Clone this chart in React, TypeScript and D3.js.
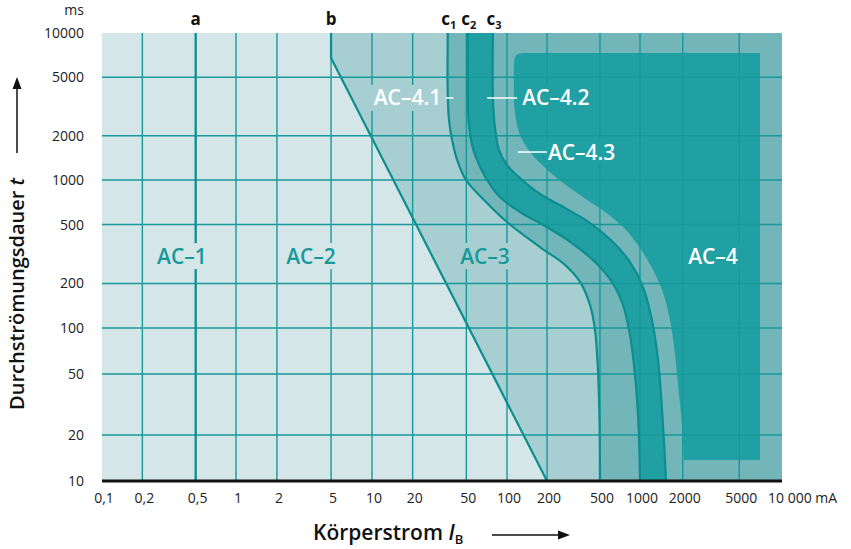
import React from "react";
import * as d3 from "d3";

// ---------- data ----------
const xTicks = [0.1, 0.2, 0.5, 1, 2, 5, 10, 20, 50, 100, 200, 500, 1000, 2000, 5000, 10000];
const xTickLabels = ["0,1", "0,2", "0,5", "1", "2", "5", "10", "20", "50", "100", "200", "500", "1000", "2000", "5000", "10 000 mA"];
const yTicks = [10, 20, 50, 100, 200, 500, 1000, 2000, 5000, 10000];
const xGrid = [0.2, 0.5, 1, 2, 5, 10, 20, 50, 100, 200, 500, 1000, 2000, 5000];
const yGrid = [20, 50, 100, 200, 500, 1000, 2000, 5000];

// curves as [current mA, duration ms]
const lineA: number[][] = [[0.5, 10], [0.5, 10000]];
const lineB: number[][] = [[5, 10000], [5, 6760], [200, 10]];
const curveC1: number[][] = [
  [36.4, 10000], [36.4, 3780], [37.2, 2560], [39.2, 1870], [42.7, 1370], [49.7, 1000], [67.6, 733],
  [100, 520], [177, 352], [273, 267], [354, 205], [421, 143], [459, 97], [483, 53.1], [496, 25.1], [500, 10],
];
const curveC2: number[][] = [
  [51.2, 10000], [51.2, 3500], [52.3, 2370], [55.1, 1730], [59.9, 1370], [69.9, 1030], [88.7, 767],
  [125, 608], [193, 489], [308, 375], [459, 279], [615, 205], [745, 143], [841, 89.9], [917, 49.3],
  [975, 23.2], [1000, 10],
];
const curveC3: number[][] = [
  [78.7, 10000], [78.7, 3500], [81.5, 2260], [87.3, 1600], [100, 1265], [125, 1030], [177, 804],
  [273, 647], [421, 512], [615, 387], [841, 279], [1050, 189], [1215, 113], [1339, 61.8], [1429, 29.1],
  [1488, 16], [1524, 10],
];
const ac4Boundary: number[][] = [
  [113, 6350], [113, 3500], [117, 2560], [127, 1960], [151, 1530], [193, 1210], [259, 969], [372, 767],
  [546, 608], [759, 474], [1000, 347], [1215, 254], [1429, 181], [1600, 122], [1734, 77.4], [1852, 42.4],
  [1977, 23.2], [2042, 13.7],
];
const ac4Top = 7300;
const ac4Right = 7000;
const ac4Bottom = 13.7;

const FONT = "'Open Sans', 'Noto Sans', sans-serif";
const C_LIGHT = "#d4e6e8";
const C_AC3 = "#a7cfd2";
const C_MED = "#72b6b9";
const C_DARK = "#21a0a3";
const C_GRID = "#17999b";
const C_LINE = "#0c8e90";

export default function App() {
  const x = d3.scaleLog().domain([0.1, 1, 10, 100, 1000, 10000]).range([102, 236, 372, 507, 640, 782]);
  const y = d3.scaleLog().domain([10, 100, 1000, 10000]).range([481, 328, 180, 33]);
  const straight = d3.line<number[]>().x((d) => x(d[0])).y((d) => y(d[1]));
  const smooth = d3
    .line<number[]>()
    .x((d) => x(d[0]))
    .y((d) => y(d[1]))
    .curve(d3.curveCatmullRom.alpha(0.5));

  const X0 = x(0.1), X1 = x(10000), Y0 = y(10), Y1 = y(10000);
  const rightClose = `L${X1},${Y0}L${X1},${Y1}Z`;

  const regionB = straight(lineB) + rightClose;
  const regionC1 = smooth(curveC1) + rightClose;
  const regionC2 = smooth(curveC2) + rightClose;
  const regionC3 = smooth(curveC3) + rightClose;
  const bx = x(ac4Boundary[0][0]);
  const ac4Shape =
    smooth(ac4Boundary) +
    `L${x(ac4Right)},${y(ac4Bottom)}L${x(ac4Right)},${y(ac4Top)}L${bx + 9},${y(ac4Top)}Q${bx},${y(ac4Top)} ${bx},${y(ac4Boundary[0][1])}Z`;

  const label = (
    text: string, cx: number, cy: number, w: number, color: string, bg: string, anchor: "middle" | "start" = "middle"
  ) => {
    const left = anchor === "middle" ? cx - w / 2 : cx;
    return (
      <g key={text}>
        <rect x={left - 4} y={cy - 13} width={w + 8} height={26} fill={bg} />
        <text x={cx} y={cy + 7.5} textAnchor={anchor} fontSize={21} fontWeight={600} fill={color} fontFamily={FONT}>
          {text}
        </text>
      </g>
    );
  };

  return (
    <svg width={851} height={549} style={{ position: "absolute", left: 0, top: 0, background: "#fff" }} fontFamily={FONT}>
      {/* fills */}
      <rect x={X0} y={Y1} width={X1 - X0} height={Y0 - Y1} fill={C_LIGHT} />
      <path d={regionB} fill={C_AC3} />
      <path d={regionC1} fill={C_MED} />
      <path d={regionC2} fill={C_DARK} />
      <path d={regionC3} fill={C_MED} />
      <path d={ac4Shape} fill={C_DARK} />

      {/* grid */}
      {xGrid.map((v) => (
        <line key={"gx" + v} x1={x(v)} x2={x(v)} y1={Y1} y2={Y0} stroke={C_GRID} strokeWidth={1.4} />
      ))}
      {yGrid.map((v) => (
        <line key={"gy" + v} x1={X0} x2={X1} y1={y(v)} y2={y(v)} stroke={C_GRID} strokeWidth={1.4} />
      ))}

      {/* boundary lines */}
      <path d={straight(lineA)!} fill="none" stroke={C_LINE} strokeWidth={2.2} />
      <path d={straight(lineB)!} fill="none" stroke={C_LINE} strokeWidth={2.2} />
      <path d={smooth(curveC1)!} fill="none" stroke={C_LINE} strokeWidth={2.2} />
      <path d={smooth(curveC2)!} fill="none" stroke={C_LINE} strokeWidth={2.2} />
      <path d={smooth(curveC3)!} fill="none" stroke={C_LINE} strokeWidth={2.2} />

      {/* axis line */}
      <line x1={X0} x2={X1} y1={Y0} y2={Y0} stroke="#111" strokeWidth={3} />

      {/* region labels */}
      {label("AC–1", x(0.395), y(306), 52, C_GRID, C_LIGHT)}
      {label("AC–2", x(3.56), y(306), 52, C_GRID, C_LIGHT)}
      {label("AC–3", x(68.7), y(306), 52, C_GRID, C_AC3)}
      {label("AC–4", x(3266), y(306), 52, "#fff", C_DARK)}
      {label("AC–4.1", x(18.3), y(3614), 66, "#fff", C_AC3)}
      {label("AC–4.2", x(130), y(3614), 73, "#fff", C_DARK, "start")}
      {label("AC–4.3", x(203), y(1550), 73, "#fff", C_DARK, "start")}
      <line x1={x(18.3) + 38} x2={x(18.3) + 46} y1={y(3614)} y2={y(3614)} stroke="#fff" strokeWidth={1.5} />
      <line x1={x(130) - 35} x2={x(130) - 5} y1={y(3614)} y2={y(3614)} stroke="#fff" strokeWidth={1.5} />
      <line x1={x(203) - 30} x2={x(203) - 1} y1={y(1550)} y2={y(1550)} stroke="#fff" strokeWidth={1.5} />

      {/* top line labels */}
      <g fontSize={17} fontWeight={700} fill="#111">
        <text x={x(0.5)} y={25} textAnchor="middle">a</text>
        <text x={x(5)} y={25} textAnchor="middle">b</text>
        <text x={x(curveC1[0][0]) + 1} y={25} textAnchor="middle">c<tspan fontSize={11} dy={4}>1</tspan></text>
        <text x={x(curveC2[0][0]) + 1} y={25} textAnchor="middle">c<tspan fontSize={11} dy={4}>2</tspan></text>
        <text x={x(curveC3[0][0]) + 1} y={25} textAnchor="middle">c<tspan fontSize={11} dy={4}>3</tspan></text>
      </g>

      {/* y tick labels */}
      <g fontSize={14} fill="#222">
        <text x={84} y={15} textAnchor="end">ms</text>
        {yTicks.map((v) => (
          <text key={"yt" + v} x={84} y={y(v) + 5} textAnchor="end">{v}</text>
        ))}
      </g>

      {/* x tick labels */}
      <g fontSize={14} fill="#222">
        {xTicks.map((v, i) =>
          i === xTicks.length - 1 ? (
            <text key={"xt" + v} x={x(v) - 14} y={503} textAnchor="start">{xTickLabels[i]}</text>
          ) : (
            <text key={"xt" + v} x={x(v) + 2} y={503} textAnchor="middle">{xTickLabels[i]}</text>
          )
        )}
      </g>

      {/* axis titles */}
      <text x={313} y={540} fontSize={21} fontWeight={600} fill="#111">
        Körperstrom <tspan fontStyle="italic">I</tspan><tspan fontSize={13} dy={4}>B</tspan>
      </text>
      <line x1={492} x2={562} y1={535} y2={535} stroke="#111" strokeWidth={1.5} />
      <polygon points="570,535 558,530.5 558,539.5" fill="#111" />

      <text transform="translate(24,294) rotate(-90)" textAnchor="middle" fontSize={20} fontWeight={600} fill="#111">
        Durchströmungsdauer <tspan fontStyle="italic">t</tspan>
      </text>
      <line x1={17} x2={17} y1={153} y2={86} stroke="#111" strokeWidth={1.5} />
      <polygon points="17,77 12.5,89 21.5,89" fill="#111" />
    </svg>
  );
}
